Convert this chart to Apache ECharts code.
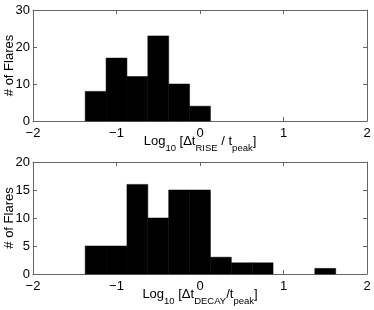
<!DOCTYPE html>
<html><head><meta charset="utf-8">
<script src="https://cdn.jsdelivr.net/npm/echarts@6/dist/echarts.min.js"></script>
<style>html,body{margin:0;padding:0;background:#fff}#c{width:374px;height:310px}</style>
</head><body><div id="c"></div>
<script>
const binWidth = 0.25;
const riseCenters = [-1.25, -1.0, -0.75, -0.5, -0.25, 0.0];
const riseCounts = [8, 17, 12, 23, 10, 4];
const decayCenters = [-1.25, -1.0, -0.75, -0.5, -0.25, 0.0, 0.25, 0.5, 0.75, 1.0, 1.25, 1.5];
const decayCounts = [5, 5, 16, 10, 15, 15, 3, 2, 2, 0, 0, 1];
const xTicks = [-2, -1, 0, 1, 2];
const riseYTicks = [0, 10, 20, 30];
const decayYTicks = [0, 5, 10, 15, 20];

const FONT = 'Liberation Sans, Arial, sans-serif';
const AX = '#666';

function histData(centers, counts) {
  return centers.map((c, i) => [c - binWidth / 2, c + binWidth / 2, counts[i]]);
}
function renderBar(params, api) {
  const lo = api.value(0), hi = api.value(1), n = api.value(2);
  if (n <= 0) return null;
  const p0 = api.coord([lo, 0]);
  const p1 = api.coord([hi, n]);
  return {
    type: 'rect',
    shape: { x: p0[0], y: p1[1], width: p1[0] - p0[0], height: p0[1] - p1[1] },
    style: { fill: '#000', stroke: '#000', lineWidth: 0.5 }
  };
}
const rich = {
  m: { fontSize: 13, fontFamily: FONT, color: '#000', lineHeight: 20, verticalAlign: 'top', padding: [0,0,0,0] },
  s: { fontSize: 9.5, fontFamily: FONT, color: '#000', lineHeight: 20, verticalAlign: 'top', padding: [8,0,0,0] }
};
function xAxes(gi, name) {
  return [{
    type: 'value', gridIndex: gi, min: -2, max: 2, interval: 1,
    axisLine: { show: true, onZero: false, lineStyle: { color: AX, width: 1 } },
    axisTick: { show: true, inside: true, length: 4, lineStyle: { color: AX } },
    axisLabel: { color: '#000', fontSize: 13, fontFamily: FONT, margin: 6,
      formatter: v => (v < 0 ? '\u2212' + Math.abs(v) : String(v)) },
    splitLine: { show: false },
    name: name, nameLocation: 'middle', nameGap: 14, nameMoveOverlap: false,
    nameTextStyle: { rich: rich }
  }, {
    type: 'value', gridIndex: gi, min: -2, max: 2, interval: 1, position: 'top',
    axisLine: { show: true, onZero: false, lineStyle: { color: AX, width: 1 } },
    axisTick: { show: true, inside: true, length: 4, lineStyle: { color: AX } },
    axisLabel: { show: false }, splitLine: { show: false }
  }];
}
function yAxes(gi, max, interval) {
  return [{
    type: 'value', gridIndex: gi, min: 0, max: max, interval: interval,
    axisLine: { show: true, onZero: false, lineStyle: { color: AX, width: 1 } },
    axisTick: { show: true, inside: true, length: 4, lineStyle: { color: AX } },
    axisLabel: { color: '#000', fontSize: 13, fontFamily: FONT, margin: 3 },
    splitLine: { show: false },
    name: '# of Flares', nameLocation: 'middle', nameGap: 17, nameMoveOverlap: false,
    nameTextStyle: { color: '#000', fontSize: 13, fontFamily: FONT }
  }, {
    type: 'value', gridIndex: gi, min: 0, max: max, interval: interval, position: 'right',
    axisLine: { show: true, onZero: false, lineStyle: { color: AX, width: 1 } },
    axisTick: { show: true, inside: true, length: 4, lineStyle: { color: AX } },
    axisLabel: { show: false }, splitLine: { show: false }
  }];
}
const chart = echarts.init(document.getElementById('c'), null, { renderer: 'canvas' });
chart.setOption({
  animation: false,
  backgroundColor: '#fff',
  grid: [
    { left: 33, right: 7, top: 10, height: 111, containLabel: false, outerBoundsMode: 'none' },
    { left: 33, right: 7, top: 162, height: 112, containLabel: false, outerBoundsMode: 'none' }
  ],
  xAxis: [].concat(
    xAxes(0, '{m|Log}{s|10}{m| [\u0394t}{s|RISE}{m| / t}{s|peak}{m|]}'),
    xAxes(1, '{m|Log}{s|10}{m| [\u0394t}{s|DECAY}{m|/t}{s|peak}{m|]}')
  ),
  yAxis: [].concat(yAxes(0, 30, 10), yAxes(1, 20, 5)),
  series: [
    { type: 'custom', xAxisIndex: 0, yAxisIndex: 0, renderItem: renderBar,
      data: histData(riseCenters, riseCounts), encode: { x: [0, 1], y: 2 } },
    { type: 'custom', xAxisIndex: 2, yAxisIndex: 2, renderItem: renderBar,
      data: histData(decayCenters, decayCounts), encode: { x: [0, 1], y: 2 } }
  ]
});
</script></body></html>
